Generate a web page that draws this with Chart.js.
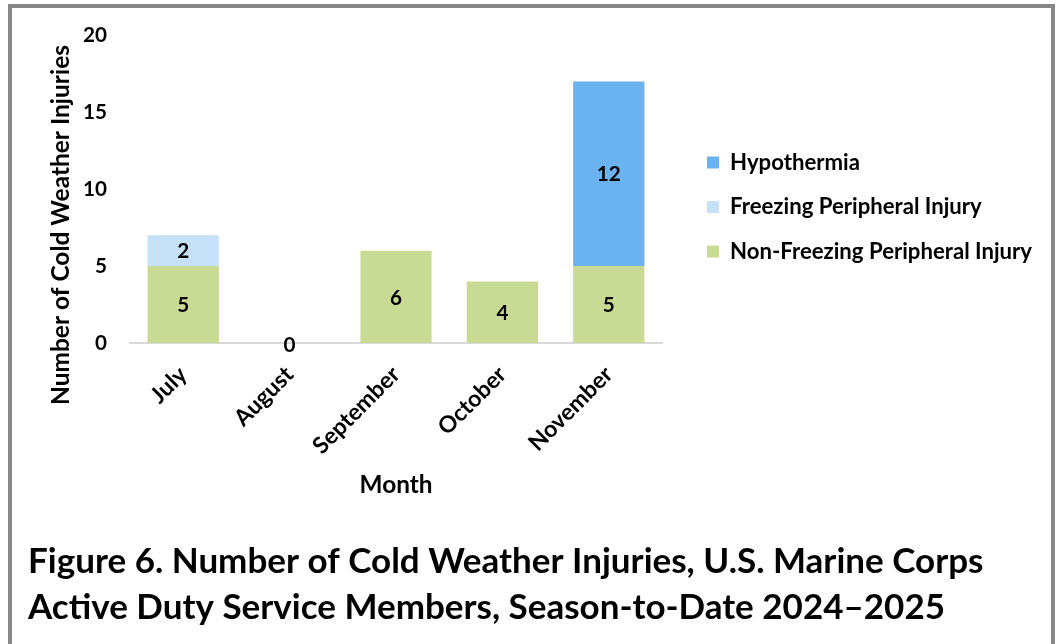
<!DOCTYPE html>
<html><head><meta charset="utf-8">
<script src="https://cdn.jsdelivr.net/npm/chart.js@4.4.1/dist/chart.umd.min.js"></script>
<style>
html,body{margin:0;padding:0;background:#fff;overflow:hidden;width:1058px;height:644px}
#frame{position:absolute;left:8px;top:4px;width:1039px;height:660px;border:4px solid #878787;border-bottom:none}
#c{position:absolute;left:0;top:0}
</style></head><body>
<div id="frame"></div>
<canvas id="c" width="1058" height="644"></canvas>
<script>
// ---- data ----
const months = ['July', 'August', 'September', 'October', 'November'];
const nonFreezing = [5, 0, 6, 4, 5];
const freezing = [2, null, null, null, null];
const hypothermia = [null, null, null, null, 12];
const yMin = 0, yMax = 20, yStep = 5;
const seriesNames = ['Non-Freezing Peripheral Injury', 'Freezing Peripheral Injury', 'Hypothermia'];
const seriesColors = ['#C9DA95', '#C6E0F8', '#6BB2F1'];
const titleLines = ['Figure 6. Number of Cold Weather Injuries, U.S. Marine Corps',
                    'Active Duty Service Members, Season-to-Date 2024\u20132025'];
const xTitle = 'Month';
const yTitle = 'Number of Cold Weather Injuries';

// ---- font sizing ----
const FAM = 'Lato, "Open Sans", "DejaVu Sans", sans-serif';
const mctx = document.createElement('canvas').getContext('2d');
function fit(text, target) {
  mctx.font = 'bold 100px ' + FAM;
  return 100 * target / mctx.measureText(text).width;
}

function build() {
const titleSize = fit(titleLines[0], 956);
const legendSize = fit(seriesNames[0], 302);
const yTitleSize = fit(yTitle, 360);
const xTitleSize = fit(xTitle, 73);
const tickSize = fit('10', 24);
const xTickSize = fit('September', 112);
const labelSize = tickSize;

const PAD_L = 28, AREA_L = 130, AREA_R = 662, AREA_T = 34.5, AREA_B = 343;
const TITLE_TOP = 539, TITLE_LINE = 46;
const LEG_SPACING = 44.5, LEG_MID = 207, LEG_BOX_X = 707;
const legPad = LEG_SPACING - Math.max(legendSize, 12);
const Y_TITLE_X = 61, Y_TITLE_Y = 225;

const valueLabels = {
  id: 'valueLabels',
  afterDatasetsDraw(chart) {
    const ctx = chart.ctx;
    ctx.save();
    ctx.font = 'bold ' + labelSize + 'px ' + FAM;
    ctx.fillStyle = '#000';
    ctx.textAlign = 'center';
    ctx.textBaseline = 'middle';
    chart.data.datasets.forEach((ds, i) => {
      const meta = chart.getDatasetMeta(i);
      meta.data.forEach((el, j) => {
        const v = ds.data[j];
        if (v === null || v === undefined) return;
        const p = el.getProps(['x', 'y', 'base'], true);
        ctx.fillText(String(v), p.x, (p.y + p.base) / 2 + (v === 0 ? 2 : 1));
      });
    });
    ctx.restore();
  }
};

const yAxisTitle = {
  id: 'yAxisTitle',
  afterDraw(chart) {
    const ctx = chart.ctx;
    ctx.save();
    ctx.translate(Y_TITLE_X, Y_TITLE_Y);
    ctx.rotate(-Math.PI / 2);
    ctx.font = 'bold ' + yTitleSize + 'px ' + FAM;
    ctx.fillStyle = '#000';
    ctx.textAlign = 'center';
    ctx.textBaseline = 'middle';
    ctx.fillText(yTitle, 0, 0);
    ctx.restore();
  }
};

const legendPlace = {
  id: 'legendPlace',
  afterLayout(chart) {
    const l = chart.legend;
    if (!l) return;
    const dy = LEG_MID - (l.top + l.bottom) / 2;
    l.top += dy; l.bottom += dy;
    const dx = (LEG_BOX_X - legPad) - l.left;
    l.left += dx; l.right += dx;
  }
};

const xTitleLH = xTitleSize * 1.2;

const chart = new Chart(document.getElementById('c'), {
  type: 'bar',
  data: {
    labels: months,
    datasets: [
      { label: seriesNames[0], data: nonFreezing, backgroundColor: seriesColors[0] },
      { label: seriesNames[1], data: freezing, backgroundColor: seriesColors[1] },
      { label: seriesNames[2], data: hypothermia, backgroundColor: seriesColors[2] }
    ]
  },
  options: {
    responsive: false,
    animation: false,
    events: [],
    devicePixelRatio: 1,
    layout: { padding: { left: PAD_L, right: 30, top: AREA_T, bottom: 644 - TITLE_TOP - TITLE_LINE * 2 } },
    datasets: { bar: { barPercentage: 0.67, categoryPercentage: 1.0, borderWidth: 0 } },
    scales: {
      x: {
        stacked: true,
        grid: { display: false, drawTicks: false },
        border: { display: true, color: '#D9D9D9', width: 2 },
        ticks: { color: '#000', font: { family: FAM, size: xTickSize, weight: 'bold' },
                 minRotation: 45, maxRotation: 45, padding: 18, autoSkip: false },
        title: { display: true, text: xTitle, color: '#000',
                 font: { family: FAM, size: xTitleSize, weight: 'bold' },
                 padding: { top: 0, bottom: TITLE_TOP - 485 - xTitleLH / 2 } },
        afterFit(s) { s.height = TITLE_TOP - AREA_B; }
      },
      y: {
        stacked: true,
        min: yMin, max: yMax,
        grid: { display: false, drawTicks: false },
        border: { display: false },
        ticks: { stepSize: yStep, color: '#000', padding: 23,
                 font: { family: FAM, size: tickSize, weight: 'bold' } },
        title: { display: false },
        afterFit(s) { s.width = AREA_L - PAD_L; }
      }
    },
    plugins: {
      tooltip: { enabled: false },
      legend: {
        position: 'right',
        fullSize: false,
        reverse: true,
        maxWidth: 600,
        labels: { boxWidth: 12, boxHeight: 12, padding: legPad, color: '#000',
                  font: { family: FAM, size: legendSize, weight: 'bold' } }
      },
      title: {
        display: true,
        position: 'bottom',
        align: 'start',
        text: titleLines,
        color: '#000',
        font: { family: FAM, size: titleSize, weight: 'bold', lineHeight: TITLE_LINE / titleSize },
        padding: { top: 0, bottom: 0 }
      }
    }
  },
  plugins: [valueLabels, yAxisTitle, legendPlace]
});
for (let k = 0; k < 3; k++) {
  const diff = chart.chartArea.right - AREA_R;
  if (Math.abs(diff) < 0.5) break;
  chart.options.layout.padding.right += diff;
  chart.update('none');
}
}
if (document.fonts && document.fonts.load) {
  Promise.all([document.fonts.load('bold 20px Lato')]).then(build, build);
} else { build(); }
</script>
</body></html>
